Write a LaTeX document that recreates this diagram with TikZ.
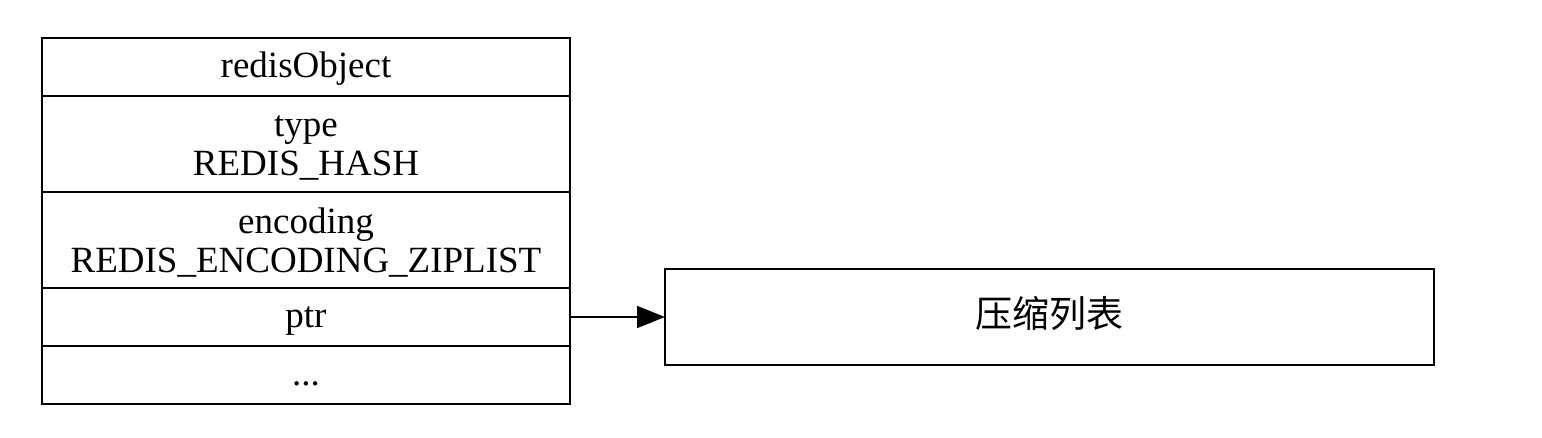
\documentclass[tikz,border=0pt]{standalone}
\usepackage{fontspec}
\setmainfont{Liberation Serif}
\newfontfamily\cjk{Noto Sans CJK SC}
\usetikzlibrary{arrows.meta,positioning}

\begin{document}
\begin{tikzpicture}[
    x=1pt, y=1pt,
    field/.style={draw, line width=0.8pt, align=center, inner sep=0pt, outer sep=0pt,
      minimum width=264pt, font=\fontsize{18.5}{19.5}\selectfont},
    short/.style={field, minimum height=29pt, text height=15pt, text depth=4pt},
    tall/.style={field, minimum height=48pt, text height=36pt, text depth=4pt},
    target/.style={field, minimum width=384.5pt, minimum height=48pt, text height=15pt, text depth=4pt},
    arrow/.style={-{Triangle[length=14pt, width=11pt]}, line width=0.8pt}
  ]
    \useasboundingbox (0,0) rectangle (771,-219);
    \node[short] (head) at (153,-33.5) {redisObject};
    \node[tall, below=0pt of head] (type) {type\\REDIS\_HASH};
    \node[tall, below=0pt of type] (enc) {encoding\\REDIS\_ENCODING\_ZIPLIST};
    \node[short, below=0pt of enc] (ptr) {ptr};
    \node[short, below=0pt of ptr] (rest) {...};
    \node[target] (ziplist) at (524.75,-158.5) {\cjk 压缩列表};
    \draw[arrow] (ptr.east) -- (ziplist.west |- ptr.east);
  \end{tikzpicture}
\end{document}
